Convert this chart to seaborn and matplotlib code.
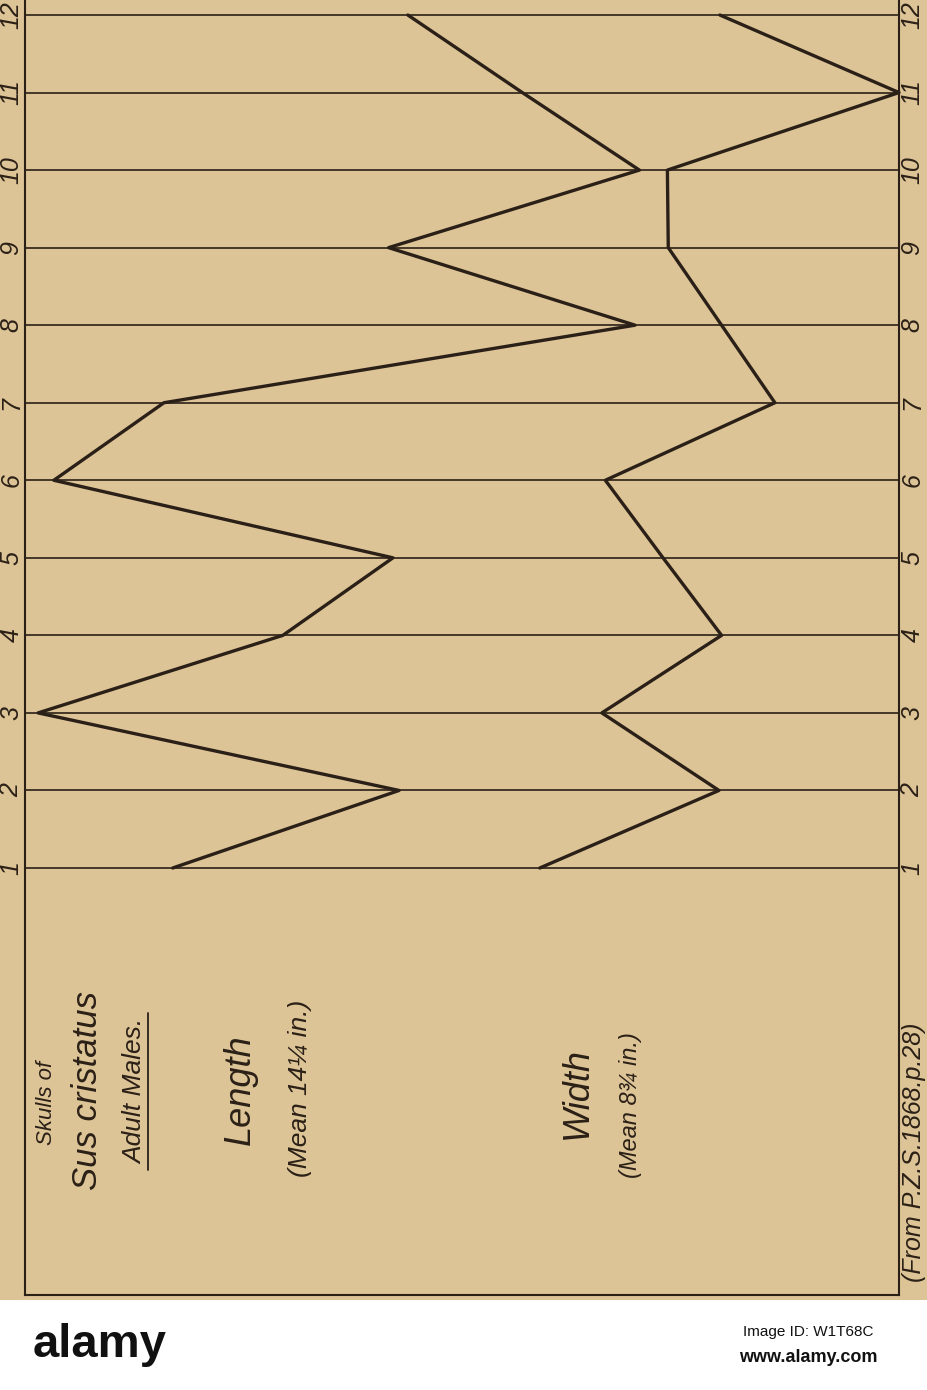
import numpy as np
import pandas as pd
import matplotlib
matplotlib.use("Agg")
import matplotlib.pyplot as plt
import seaborn as sns
from matplotlib.patches import Rectangle

# ── Data ──────────────────────────────────────────────────────────────────────
skull_no = [1, 2, 3, 4, 5, 6, 7, 8, 9, 10, 11, 12]
# horizontal position of each point, 0 = left frame, 100 = right frame
length_vals = [16.9, 42.8, 1.5, 29.5, 42.1, 3.3, 15.9, 69.8, 41.6, 70.3, 56.9, 43.8]
width_vals = [58.9, 79.4, 66.0, 79.7, 73.0, 66.4, 85.8, 79.7, 73.6, 73.5, 100.0, 79.5]
tick_labels = [str(n) for n in skull_no]

df = pd.DataFrame({"skull": skull_no, "length": length_vals, "width": width_vals})

# ── Style ─────────────────────────────────────────────────────────────────────
sns.set_style("white")
plt.rcParams["font.family"] = ["Liberation Sans Narrow", "Liberation Sans", "DejaVu Sans"]

PAPER = "#dcc496"
INK = "#2b2017"
W, H = 928, 1390

fig = plt.figure(figsize=(W / 100, H / 100), dpi=100)
fig.patch.set_facecolor("white")
fig.patches.append(Rectangle((0, (H - 1300) / H), 1, 1300 / H, transform=fig.transFigure,
                             facecolor=PAPER, edgecolor="none", zorder=-5))

# frame: left 25px, right 899px, top = image edge, bottom 1295px
left, right, bottom = 25, 899, 1295
ax = fig.add_axes([left / W, (H - bottom) / H, (right - left) / W, bottom / H])
ax.set_facecolor("none")
ax.set_zorder(2)

sns.lineplot(data=df, x="length", y="skull", orient="y", sort=False,
             color=INK, lw=2.4, ax=ax, clip_on=False)
sns.lineplot(data=df, x="width", y="skull", orient="y", sort=False,
             color=INK, lw=2.4, ax=ax, clip_on=False)

ax.set_xlim(0, 100)
# line 12 sits 15px below top edge, line 1 at 868px, frame bottom at 1295px
step = (868 - 15) / 11
ax.set_ylim(1 - (bottom - 868) / step, 12 + 15 / step)

ax.set_yticks(skull_no)
ax.set_yticklabels(tick_labels)
ax.set_xticks([])
ax.yaxis.grid(True, color=INK, lw=1.2)
ax.xaxis.grid(False)
ax.set_axisbelow(True)
ax.tick_params(axis="y", length=0, pad=1, labelleft=True, labelright=True,
               labelsize=18, labelcolor=INK)
for lab in ax.get_yticklabels():
    lab.set_rotation(90)
    lab.set_style("italic")
    lab.set_va("center")
ax.set_xlabel("")
ax.set_ylabel("")
for side in ["left", "right", "bottom"]:
    ax.spines[side].set_color(INK)
    ax.spines[side].set_linewidth(1.5)
ax.spines["top"].set_visible(False)

# ── Rotated titles ────────────────────────────────────────────────────────────
def label(x, y, s, size, **kw):
    fig.text(x / W, 1 - y / H, s, rotation=90, ha="center", va="center",
             fontsize=size, color=INK, style="italic", **kw)

label(47, 1103, "Skulls of", 16)
label(88, 1091, "Sus cristatus", 25)
label(135, 1091, "Adult Males.", 19)
fig.lines.append(plt.Line2D([148 / W, 148 / W], [1 - 1170 / H, 1 - 1013 / H],
                            transform=fig.transFigure, color=INK, lw=1.3))
label(240, 1090, "Length", 26)
label(300, 1088, "(Mean 14¼ in.)", 19)
label(577, 1093, "Width", 26)
label(630, 1105, "(Mean 8¾ in.)", 17)
label(914, 1152, "(From P.Z.S.1868.p.28)", 18)

# ── Footer band ───────────────────────────────────────────────────────────────
fig.text(100 / W, 1 - 1345 / H, "alamy", ha="center", va="center",
         fontsize=34, fontweight="bold", color="#111111")
fig.text(808 / W, 1 - 1332 / H, "Image ID: W1T68C", ha="center", va="center",
         fontsize=11, color="#111111")
fig.text(808 / W, 1 - 1358 / H, "www.alamy.com", ha="center", va="center",
         fontsize=13, fontweight="bold", color="#111111")

fig.savefig("out.png", dpi=100)
plt.close(fig)
